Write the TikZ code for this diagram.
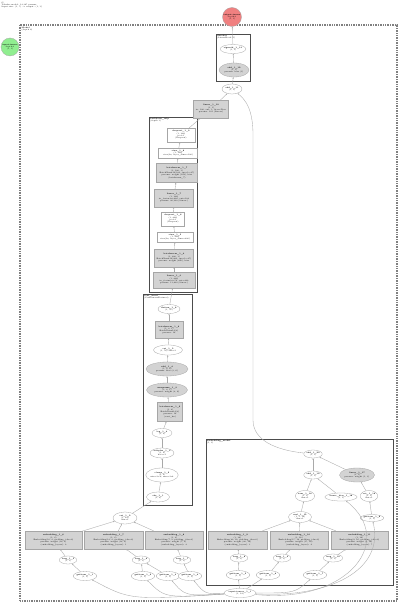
\documentclass[tikz,border=0pt]{standalone}
\usepackage{fontspec}
\usetikzlibrary{arrows.meta,shapes.geometric}
\definecolor{gfill}{HTML}{D3D3D3}
\definecolor{redn}{HTML}{F08080}
\definecolor{greenn}{HTML}{90EE90}
\definecolor{edgec}{HTML}{A9A9A9}
\tikzset{
  base/.style={inner sep=0pt, align=center, font=\fontsize{1.9}{2.3}\selectfont, draw=gray!70, line width=0.3pt},
  ell/.style={base, ellipse, fill=white},
  gell/.style={base, ellipse, fill=gfill},
  wbox/.style={base, rectangle, fill=white},
  gbox/.style={base, rectangle, fill=gfill},
  sz/.style 2 args={minimum width=#1pt, minimum height=#2pt},
  con/.style={draw=edgec, line width=0.35pt, -{Stealth[length=1.6pt,width=1.3pt]}},
  clu/.style={draw=black!70, line width=0.45pt},
  clulab/.style={anchor=north west, inner sep=0.5pt, align=left, font=\fontsize{1.9}{2.3}\selectfont},
}
\begin{document}
\begin{tikzpicture}[x=1pt,y=-1pt]
\useasboundingbox (0,0) rectangle (400,604);
\fill[white] (0,0) rectangle (400,604);
% header
\node[clulab] (hdr) at (1,1) {G\\Tabular model: 12,345 params\\Input size: (1, 5) \,→\, output: (1, 1)};
% clusters
\draw[draw=gray, line width=1.2pt, dash pattern=on 1pt off 0.7pt] (20,25) rectangle (397,601);
\node[clulab] (lab0) at (21,26) {\textbf{Model}\\(depth 0)};
\draw[clu] (216,34) rectangle (250,81);
\node[clulab] (lab1) at (216.5,34.5) {\textbf{decoder}\\(LinearHead: 1)};
\draw[clu] (149,117) rectangle (197,292);
\node[clulab] (lab2) at (149.5,117.5) {\textbf{backbone\_mlp}\\(depth 1)};
\draw[clu] (143,294) rectangle (192,505);
\node[clulab] (lab3) at (143.5,294.5) {\textbf{cont\_head}\\(ContinuousFeatures)};
\draw[clu] (206,439) rectangle (393,585);
\node[clulab] (lab4) at (206.5,439.5) {\textbf{embedding\_model}\\(1, 3)};
% top nodes
\node[base, circle, fill=redn, minimum size=19pt] (out) at (232,17) {\textbf{output-tensor}\\depth:0\\(1, 1)};
\node[base, circle, fill=greenn, minimum size=18pt] (green) at (10,47) {\textbf{input-tensor}\\depth:0\\(1, 3)};
\node[ell, sz={22}{9}] (sig) at (233,49) {\textbf{sigmoid\_1\_13}\\(1, 1)};
\node[gell, sz={30}{14}] (add12) at (234,70) {\textbf{add\_1\_12}\\(1, 1)\\params: bias (1)};
\node[ell, sz={20}{10}] (add11) at (232,89) {\textbf{add\_1\_11}\\(1, 1)};
\node[gbox, sz={35}{18}] (lin10) at (211,109) {\textbf{linear\_1\_10}\\(1, 1)\\in: 100, out: 1, bias=True\\params: 101 (Linear)};
% cluster 2
\node[wbox, sz={28}{14}] (drop9) at (181,135) {\textbf{dropout\_1\_9}\\(1, 100)\\p=0.1\\(Dropout)};
\node[wbox, sz={39}{10}] (view8) at (178,153) {\textbf{view\_1\_8}\\(1, 100)\\view(bs, layer\_dims=100)};
\node[gbox, sz={41}{19}] (bn7) at (177,173) {\textbf{batchnorm\_1\_7}\\(1, 100, 1)\\BatchNorm1d(100, eps=1e-05)\\params: weight (100), bias\\(batchnorm\_7)};
\node[gbox, sz={39}{18}] (lin7) at (174,198) {\textbf{linear\_1\_7}\\(1, 100)\\in\_features=200, out=100\\params: 20,100 (Linear)};
\node[wbox, sz={23}{14}] (drop6) at (173,219) {\textbf{dropout\_1\_6}\\(1, 200)\\p=0.1\\(Dropout)};
\node[wbox, sz={36}{10}] (view5) at (175,237) {\textbf{view\_1\_5}\\(1, 200)\\view(bs, layer\_dims=200)};
\node[gbox, sz={39}{18}] (bn4) at (174,258) {\textbf{batchnorm\_1\_4}\\(1, 200, 1)\\BatchNorm1d(200, eps=1e-05)\\params: weight (200), bias};
\node[gbox, sz={42}{16}] (lin3) at (174,280) {\textbf{linear\_1\_3}\\(1, 200)\\in\_features=56, out=200\\params: 11,400 (Linear)};
% cluster 3
\node[ell, sz={22}{9}] (flat) at (169,309) {\textbf{flatten\_1\_8}\\(1, 56)};
\node[gbox, sz={28}{17}] (bn2) at (169,330) {\textbf{batchnorm\_1\_6}\\(1, 8, 1)\\BatchNorm1d(8)\\params: 16};
\node[ell, sz={29}{10}] (cat2) at (168,350) {\textbf{cat\_1\_5}\\(1, 56) dim=1};
\node[gell, sz={42}{14}] (addc) at (167,369) {\textbf{add\_1\_4}\\(1, 8, 6)\\params: bias (8, 6)};
\node[gell, sz={41}{14}] (unsq) at (167,390) {\textbf{unsqueeze\_1\_3}\\(1, 8, 1)\\params: weight (8, 6)};
\node[gbox, sz={25}{19}] (gr) at (170,412) {\textbf{batchnorm\_1\_2}\\(1, 8)\\BatchNorm1d(8)\\params: 16\\(cont\_bn)};
\node[ell, sz={20}{9}] (log) at (162,433) {\textbf{log\_1\_4}\\(1, 8)};
\node[ell, sz={23}{10}] (relu) at (162,453) {\textbf{softplus\_1\_3}\\(1, 8)\\beta=1};
\node[ell, sz={31}{14}] (clamp) at (162,475) {\textbf{clamp\_1\_2}\\(1, 8)\\min=1e-6, max=1e6};
\node[ell, sz={23}{10}] (absn) at (158,497) {\textbf{abs\_1\_1}\\(1, 8)};
% bottom row left
\node[ell, sz={24}{12}] (catL) at (125,518) {\textbf{cat\_1\_2}\\(1, 24)\\dim=1};
\node[gbox, sz={57}{18}] (r1) at (53.5,540) {\textbf{embedding\_1\_6}\\(1, 8)\\Embedding(10, 8, padding\_idx=0)\\params: weight (10, 8)\\(embedding\_layers): 0};
\node[gbox, sz={59}{18}] (r2) at (113.5,540) {\textbf{embedding\_1\_7}\\(1, 8)\\Embedding(12, 8, padding\_idx=0)\\params: weight (12, 8)\\(embedding\_layers): 1};
\node[gbox, sz={58}{18}] (r3) at (174,540) {\textbf{embedding\_1\_8}\\(1, 8)\\Embedding(7, 8, padding\_idx=0)\\params: weight (7, 8)\\(embedding\_layers): 2};
\node[gbox, sz={59}{18}] (r4) at (237.5,540) {\textbf{embedding\_1\_9}\\(1, 16)\\Embedding(20, 16, padding\_idx=0)\\params: weight (20, 16)\\(embedding\_layers): 3};
\node[gbox, sz={58}{18}] (r5) at (299,540) {\textbf{embedding\_1\_10}\\(1, 16)\\Embedding(15, 16, padding\_idx=0)\\params: weight (15, 16)\\(embedding\_layers): 4};
\node[gbox, sz={57}{18}] (r6) at (359.5,540) {\textbf{embedding\_1\_11}\\(1, 16)\\Embedding(9, 16, padding\_idx=0)\\params: weight (9, 16)\\(embedding\_layers): 5};
\node[ell, sz={17}{8}] (d1) at (68,560) {\textbf{long\_1\_5}\\(1, 1)};
\node[ell, sz={17}{8}] (d2) at (141,560) {\textbf{long\_1\_6}\\(1, 1)};
\node[ell, sz={17}{8}] (d3) at (182,560) {\textbf{long\_1\_7}\\(1, 1)};
\node[ell, sz={17}{8}] (d4) at (239,558) {\textbf{long\_1\_8}\\(1, 1)};
\node[ell, sz={17}{8}] (d5) at (282,558) {\textbf{long\_1\_9}\\(1, 1)};
\node[ell, sz={17}{8}] (d6) at (333,558) {\textbf{long\_1\_10}\\(1, 1)};
\node[ell, sz={20}{9}] (p1) at (85,576) {\textbf{getitem\_1\_1}\\(1, 1)};
\node[ell, sz={20}{9}] (p2) at (143,576) {\textbf{getitem\_1\_2}\\(1, 1)};
\node[ell, sz={20}{9}] (p3) at (168,576) {\textbf{getitem\_1\_3}\\(1, 1)};
\node[ell, sz={20}{9}] (p4) at (190,576) {\textbf{getitem\_1\_4}\\(1, 1)};
\node[ell, sz={20}{9}] (p5) at (238,575) {\textbf{getitem\_1\_5}\\(1, 1)};
\node[ell, sz={20}{9}] (p6) at (268,575) {\textbf{getitem\_1\_6}\\(1, 1)};
\node[ell, sz={20}{9}] (p7) at (315,575) {\textbf{getitem\_1\_7}\\(1, 1)};
\node[ell, sz={26}{9}] (inp) at (240,593) {\textbf{input-tensor\_1\_1}\\(1, 14)};
% right cluster
\node[ell, sz={16}{8}] (rA) at (313,454) {\textbf{add\_1\_20}\\(1, 1)};
\node[ell, sz={16}{8}] (rB) at (313,475) {\textbf{add\_1\_19}\\(1, 1)};
\node[gell, sz={31}{14}] (rG) at (357,475) {\textbf{linear\_1\_17}\\(1, 1)\\params: weight (1, 3)};
\node[ell, sz={14}{11}] (rC) at (305,496) {\textbf{sum\_1\_16}\\(1, 1)\\dim=1};
\node[ell, sz={22}{8}] (rD) at (341,497) {\textbf{linear\_bias\_1\_18}\\(1, 1)};
\node[ell, sz={12}{11}] (rE) at (369,496) {\textbf{cat\_1\_16}\\(1, 3)\\dim=1};
\node[ell, sz={23}{11}] (rF) at (300,517) {\textbf{mul\_1\_15}\\(1, 3, 16)\\dim=1};
\node[ell, sz={15}{7}] (rH) at (372,518) {\textbf{getitem\_1\_8}\\(1, 3)};
% connectors
\draw[con] (sig) -- (out);
\draw[con] (add12) -- (sig);
\draw[con] (add11) -- (add12);
\draw[con] (lin10) -- (add11);
\draw[con] (rA) .. controls (275,450) and (253,440) .. (253,420) -- (253,135) .. controls (253,110) and (246,100) .. (add11);
\draw[con] (drop9) -- (lin10);
\draw[con] (view8) -- (drop9);
\draw[con] (bn7) -- (view8);
\draw[con] (lin7) -- (bn7);
\draw[con] (drop6) -- (lin7);
\draw[con] (view5) -- (drop6);
\draw[con] (bn4) -- (view5);
\draw[con] (lin3) -- (bn4);
\draw[con] (flat) -- (lin3);
\draw[con] (bn2) -- (flat);
\draw[con] (cat2) -- (bn2);
\draw[con] (addc) -- (cat2);
\draw[con] (unsq) -- (addc);
\draw[con] (gr) -- (unsq);
\draw[con] (log) -- (gr);
\draw[con] (relu) -- (log);
\draw[con] (clamp) -- (relu);
\draw[con] (absn) -- (clamp);
\draw[con] (catL) -- (absn);
\draw[con] (r1) -- (catL);
\draw[con] (r2) -- (catL);
\draw[con] (r3) -- (catL);
\draw[con] (d1) -- (r1);
\draw[con] (d2) -- (r2);
\draw[con] (d3) -- (r3);
\draw[con] (d4) -- (r4);
\draw[con] (d5) -- (r5);
\draw[con] (d6) -- (r6);
\draw[con] (p1) -- (d1);
\draw[con] (p2) -- (d2);
\draw[con] (p3) -- (d2);
\draw[con] (p4) -- (d3);
\draw[con] (p5) -- (d4);
\draw[con] (p6) -- (d5);
\draw[con] (p7) -- (d6);
\draw[con] (inp) .. controls (130,600) .. (p1);
\draw[con] (inp) .. controls (165,598) .. (p2);
\draw[con] (inp) .. controls (185,596) .. (p3);
\draw[con] (inp) .. controls (205,594) .. (p4);
\draw[con] (inp) -- (p5);
\draw[con] (inp) -- (p6);
\draw[con] (inp) .. controls (295,593) .. (p7);
\draw[con] (inp) .. controls (330,598) and (385,570) .. (rH);
\draw[con] (inp) .. controls (350,604) and (396,540) .. (rD);
\draw[con] (r4) -- (rF);
\draw[con] (r5) -- (rF);
\draw[con] (r6) -- (rF);
\draw[con] (rF) -- (rC);
\draw[con] (rC) -- (rB);
\draw[con] (rD) -- (rB);
\draw[con] (rB) -- (rA);
\draw[con] (rG) -- (rA);
\draw[con] (rE) -- (rG);
\draw[con] (rH) -- (rE);
\end{tikzpicture}
\end{document}
